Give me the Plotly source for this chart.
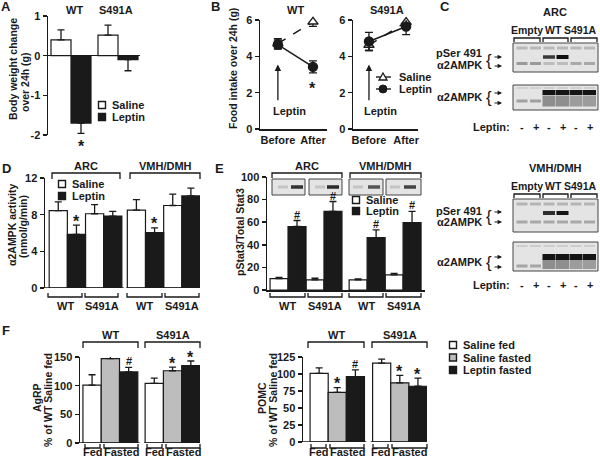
import plotly.graph_objects as go

# ---------------- data ----------------
# Panel A: body weight change over 24h (g)
a_genotypes = ["WT", "S491A"]
a_saline = [0.40, 0.52]
a_saline_err = [0.25, 0.25]
a_leptin = [-1.70, -0.10]
a_leptin_err = [0.26, 0.28]
a_leptin_marks = ["*", ""]

# Panel B: food intake over 24h (g)
b_times = ["Before", "After"]
b_wt_saline = [4.70, 5.90]
b_wt_saline_err = [0.28, 0.25]
b_wt_leptin = [4.65, 3.42]
b_wt_leptin_err = [0.25, 0.33]
b_wt_leptin_marks = ["", "*"]
b_s_saline = [4.62, 5.88]
b_s_saline_err = [0.30, 0.28]
b_s_leptin = [4.82, 5.64]
b_s_leptin_err = [0.50, 0.45]

# Panel D: a2AMPK activity (order: ARC WT, ARC S491A, VMH WT, VMH S491A)
d_regions = ["ARC", "VMH/DMH"]
d_genotypes = ["WT", "S491A"]
d_saline = [8.45, 8.10, 8.50, 9.00]
d_saline_err = [0.95, 1.00, 1.15, 1.25]
d_leptin = [5.85, 7.85, 6.05, 10.05]
d_leptin_err = [1.00, 0.50, 0.50, 0.85]
d_leptin_marks = ["*", "", "*", ""]

# Panel E: pStat3 / total Stat3
e_saline = [10.1, 8.9, 8.9, 13.3]
e_saline_err = [1.1, 1.5, 0.9, 1.5]
e_leptin = [56.2, 69.5, 46.4, 59.7]
e_leptin_err = [5.3, 8.8, 6.8, 9.8]
e_leptin_marks = ["#", "#", "#", "#"]

# Panel F (order: WT, S491A)
f_genotypes = ["WT", "S491A"]
f_conditions = ["Saline fed", "Saline fasted", "Leptin fasted"]
f_agrp_saline_fed = [101, 104]
f_agrp_saline_fed_err = [18, 9]
f_agrp_saline_fasted = [147, 126]
f_agrp_saline_fasted_err = [6, 6.5]
f_agrp_saline_fasted_marks = ["*", "*"]
f_agrp_leptin_fasted = [124, 135]
f_agrp_leptin_fasted_err = [8, 8]
f_agrp_leptin_fasted_marks = ["#", "*"]
f_pomc_saline_fed = [101, 116]
f_pomc_saline_fed_err = [8, 6]
f_pomc_saline_fasted = [73, 87]
f_pomc_saline_fasted_err = [7, 11]
f_pomc_saline_fasted_marks = ["*", "*"]
f_pomc_leptin_fasted = [96, 82]
f_pomc_leptin_fasted_err = [10, 12]
f_pomc_leptin_fasted_marks = ["#", "*"]

# ---------------- helpers ----------------
W, H = 600, 457
FONT = "Liberation Sans, Arial, sans-serif"
INK = "#1a1a1a"
GRAY = "#bdbdbd"
TICKFONT = dict(family=FONT, size=11, color=INK, weight="bold")


def X(p):
    return p / W


def Y(p):
    return 1 - p / H


fig = go.Figure()
shapes, annos = [], []


def text(x, y, s, size=11, anchor="center", angle=0, weight="bold"):
    annos.append(dict(x=X(x), y=Y(y), xref="paper", yref="paper", text=s, showarrow=False,
                      xanchor=anchor, yanchor="middle", textangle=angle,
                      font=dict(family=FONT, size=size, color=INK, weight=weight)))


def bracket(x0, x1, y, h):
    path = f"M{X(x0)},{Y(y + h)} L{X(x0)},{Y(y)} L{X(x1)},{Y(y)} L{X(x1)},{Y(y + h)}"
    shapes.append(dict(type="path", xref="paper", yref="paper", path=path,
                       line=dict(color=INK, width=1.3)))


def rect(x0, y0, x1, y1, fill, lw=0, lc=INK, op=1.0):
    shapes.append(dict(type="rect", xref="paper", yref="paper", x0=X(x0), x1=X(x1),
                       y0=Y(y1), y1=Y(y0), fillcolor=fill, opacity=op,
                       line=dict(width=lw, color=lc)))


def band(cx, cy, w, h, color, op=1.0):
    rect(cx - w / 2, cy - h / 2, cx + w / 2, cy + h / 2, color, op=op)


def small_arrow(x_tip, y, length=9):
    annos.append(dict(x=X(x_tip), y=Y(y), xref="paper", yref="paper", ax=-length, ay=0,
                      showarrow=True, arrowhead=2, arrowsize=0.8, arrowwidth=1.1,
                      arrowcolor=INK, text=""))


def legend_square(x, y, fill, label):
    rect(x - 3.5, y - 3.5, x + 3.5, y + 3.5, fill, lw=1.4)
    text(x + 8, y, label, anchor="left")


def baseline(xa, ya, segs):
    for x0, x1 in segs:
        shapes.append(dict(type="line", xref=xa, yref=ya, x0=x0, x1=x1, y0=0, y1=0,
                           line=dict(color=INK, width=1.5)))


def add_bars(xa, ya, xs, ys, errs, color, neg=False):
    n = len(ys)
    fig.add_trace(go.Bar(
        x=xs, y=ys, width=1, xaxis=xa, yaxis=ya, showlegend=False,
        marker=dict(color=color, line=dict(color=INK, width=1.2)),
        error_y=dict(type="data", symmetric=False,
                     array=[0] * n if neg else errs,
                     arrayminus=errs if neg else [0] * n,
                     color=INK, thickness=1.3, width=3.5)))


def add_marks(xa, ya, xs, ends, marks, below=False):
    for x, e, m in zip(xs, ends, marks):
        if not m:
            continue
        if m == "*":
            size, shift = 16, (-13 if below else 4)
        else:
            size, shift = 11, 6
        annos.append(dict(x=x, y=e, xref=xa, yref=ya, text=m, showarrow=False,
                          xanchor="center", yanchor="middle", yshift=shift,
                          font=dict(family=FONT, size=size, color=INK, weight="bold")))


def yaxis(top, bottom, rng, **kw):
    d = dict(domain=[Y(bottom), Y(top)], range=rng, showgrid=False, zeroline=False,
             showline=True, linecolor=INK, linewidth=1.5, ticks="outside", ticklen=4,
             tickwidth=1.5, tickcolor=INK, tickfont=TICKFONT, fixedrange=True,
             automargin=False)
    d.update(kw)
    return d


def xaxis(left, right, rng, **kw):
    d = dict(domain=[X(left), X(right)], range=rng, showgrid=False, zeroline=False,
             showline=False, ticks="", showticklabels=False, fixedrange=True,
             automargin=False)
    d.update(kw)
    return d


def group_positions(n_groups, n_per, gap):
    return [[g * (n_per + gap) + i for g in range(n_groups)] for i in range(n_per)]


# ---------------- Panel A ----------------
a_pos = group_positions(len(a_genotypes), 2, 0.35)
add_bars("x", "y", a_pos[0], a_saline, a_saline_err, "white")
add_bars("x", "y", a_pos[1], a_leptin, a_leptin_err, INK, neg=True)
add_marks("x", "y", a_pos[1], [v - e for v, e in zip(a_leptin, a_leptin_err)], a_leptin_marks, below=True)
text(6, 7, "A", size=13)
text(74, 10, a_genotypes[0])
text(116, 10, a_genotypes[1])
text(13, 69, "Body weight change", size=10.5, angle=-90)
text(25, 82, "over 24h (g)", size=10.5, angle=-90)
legend_square(102, 105, "white", "Saline")
legend_square(102, 117, INK, "Leptin")

# ---------------- Panel B ----------------
b_x = list(range(len(b_times)))


def b_series(xa, ya, vals, errs, saline):
    fig.add_trace(go.Scatter(
        x=b_x, y=vals, xaxis=xa, yaxis=ya, mode="lines+markers", showlegend=False,
        cliponaxis=False,
        line=dict(color=INK, width=1.5, dash="dash" if saline else "solid"),
        marker=dict(symbol="triangle-up" if saline else "circle", size=9,
                    color="white" if saline else INK, line=dict(color=INK, width=1.4)),
        error_y=dict(type="data", array=errs, color=INK, thickness=1.3, width=4)))


b_series("x2", "y2", b_wt_saline, b_wt_saline_err, True)
b_series("x2", "y2", b_wt_leptin, b_wt_leptin_err, False)
b_series("x3", "y3", b_s_saline, b_s_saline_err, True)
b_series("x3", "y3", b_s_leptin, b_s_leptin_err, False)
for i, m in enumerate(b_wt_leptin_marks):
    if m:
        annos.append(dict(x=b_x[i], y=b_wt_leptin[i] - b_wt_leptin_err[i], xref="x2", yref="y2",
                          text=m, showarrow=False, yanchor="middle", yshift=-16,
                          font=dict(family=FONT, size=16, color=INK, weight="bold")))
for xa, ya in (("x2", "y2"), ("x3", "y3")):
    annos.append(dict(x=b_x[0], y=3.55, ax=b_x[0], ay=1.5, xref=xa, yref=ya, axref=xa, ayref=ya,
                      showarrow=True, arrowhead=2, arrowsize=1, arrowwidth=1.3,
                      arrowcolor=INK, text=""))
    annos.append(dict(x=b_x[0] + 0.32, y=1.0, xref=xa, yref=ya, text="Leptin", showarrow=False,
                      font=dict(family=FONT, size=11, color=INK, weight="bold")))
text(215, 7, "B", size=13)
text(295, 10, "WT")
text(387, 10, "S491A")
text(233, 68, "Food intake over 24h (g)", size=10.5, angle=-90)
# legend B
shapes.append(dict(type="line", xref="paper", yref="paper", x0=X(376), x1=X(391), y0=Y(77), y1=Y(77),
                   line=dict(color=INK, width=1.4)))
shapes.append(dict(type="path", xref="paper", yref="paper",
                   path=f"M{X(379)},{Y(80)} L{X(387)},{Y(80)} L{X(383)},{Y(73)} Z",
                   fillcolor="white", line=dict(color=INK, width=1.3)))
shapes.append(dict(type="line", xref="paper", yref="paper", x0=X(376), x1=X(391), y0=Y(89), y1=Y(89),
                   line=dict(color=INK, width=1.4)))
shapes.append(dict(type="circle", xref="paper", yref="paper", x0=X(379), x1=X(387), y0=Y(93), y1=Y(85),
                   fillcolor=INK, line=dict(color=INK, width=1)))
text(397, 77, "Saline", anchor="left")
text(397, 89, "Leptin", anchor="left")

# ---------------- Panel C (blots) ----------------
lanes = [522, 535.5, 549, 562.5, 576, 589.5]
leptin_signs = ["-", "+", "-", "+", "-", "+"]
text(445, 6, "C", size=13)


def blot_block(top, title):
    o = top
    text(555, o, title)
    text(527, o + 18, "Empty", size=10.5)
    text(553, o + 18, "WT", size=10.5)
    text(580, o + 18, "S491A", size=10.5)
    for x0, x1 in ((514, 540), (543, 568), (571, 597)):
        bracket(x0, x1, o + 26, 4)


def brace(x, y, size=17):
    annos.append(dict(x=X(x), y=Y(y), xref="paper", yref="paper", text="{", showarrow=False,
                      xanchor="center", yanchor="middle",
                      font=dict(family=FONT, size=size, color=INK)))


# ARC
blot_block(12, "ARC")
rect(513, 43, 598, 72, "#e4e4e4", lw=1, lc="#444")
for i, cx in enumerate(lanes):
    band(cx, 48, 11, 3, "#b8b8b8")
    band(cx, 63.5, 11, 3, "#9a9a9a" if i < 2 else ("#bdbdbd" if i < 4 else "#a8a8a8"))
band(lanes[2], 57, 12, 3.5, "#3a3a3a")
band(lanes[3], 57, 12, 4, "#111111")
text(484, 53, "pSer 491", anchor="right")
text(484, 65, "\u03b12AMPK", anchor="right")
brace(489, 61)
small_arrow(502, 57)
small_arrow(502, 66)
rect(513, 85, 598, 110, "#e4e4e4", lw=1, lc="#444")
for i, cx in enumerate(lanes):
    band(cx, 88, 11, 2, "#d0d0d0")
    if i < 2:
        band(cx, 101, 11, 3, "#a0a0a0")
    else:
        band(cx, 101, 13, 11, "#8e8e8e" if i < 4 else "#9c9c9c")
        band(cx, 92.5, 13, 5, "#141414")
text(484, 97, "\u03b12AMPK", anchor="right")
brace(489, 98)
small_arrow(502, 93)
small_arrow(502, 103)
text(512, 127, "Leptin:", anchor="right")
for cx, s in zip(lanes, leptin_signs):
    text(cx, 127, s)

# VMH/DMH
blot_block(168, "VMH/DMH")
rect(513, 199, 598, 232, "#e4e4e4", lw=1, lc="#444")
for i, cx in enumerate(lanes):
    band(cx, 204, 11, 3, "#b4b4b4")
    band(cx, 222, 11, 3, "#a8a8a8")
band(lanes[2], 213, 12, 4, "#2e2e2e")
band(lanes[3], 213, 12, 4, "#151515")
text(484, 211, "pSer 491", anchor="right")
text(484, 222, "\u03b12AMPK", anchor="right")
brace(489, 217)
small_arrow(502, 212)
small_arrow(502, 222)
rect(513, 242, 598, 271, "#e4e4e4", lw=1, lc="#444")
for i, cx in enumerate(lanes):
    band(cx, 246, 11, 2, "#cdcdcd")
    if i < 2:
        band(cx, 266, 11, 3, "#a5a5a5")
    else:
        band(cx, 264, 13, 10, "#8e8e8e" if i < 4 else "#9c9c9c")
        band(cx, 257, 13, 6, "#151515")
text(484, 262, "\u03b12AMPK", anchor="right")
brace(489, 262)
small_arrow(502, 257)
small_arrow(502, 267)
text(512, 285, "Leptin:", anchor="right")
for cx, s in zip(lanes, leptin_signs):
    text(cx, 285, s)

# ---------------- Panel D ----------------
d_gap = 0.3
d_sal_x = [r * (4 + d_gap) + g * 2 for r in range(len(d_regions)) for g in range(len(d_genotypes))]
d_lep_x = [x + 1 for x in d_sal_x]
add_bars("x4", "y4", d_sal_x, d_saline, d_saline_err, "white")
add_bars("x4", "y4", d_lep_x, d_leptin, d_leptin_err, INK)
add_marks("x4", "y4", d_lep_x, [v + e for v, e in zip(d_leptin, d_leptin_err)], d_leptin_marks)
baseline("x4", "y4", [(-0.73, 3.6), (3.75, 7.8)])
text(6, 168, "D", size=13)
text(86, 166, d_regions[0])
text(165, 166, d_regions[1])
bracket(52, 120, 173, 6)
bracket(130, 200, 173, 6)
for x0, x1, lab in ((48, 82, "WT"), (85, 118, "S491A"), (127, 162, "WT"), (165, 199, "S491A")):
    bracket(x0, x1, 297, -4)
    text((x0 + x1) / 2, 306, lab)
text(12, 225, "\u03b12AMPK activity", size=10.5, angle=-90)
text(23, 227, "(nmol/g/min)", size=10.5, angle=-90)
legend_square(62, 184, "white", "Saline")
legend_square(62, 196, INK, "Leptin")

# ---------------- Panel E ----------------
e_gap = 0.4
e_sal_x = [r * (4 + e_gap) + g * 2 for r in range(2) for g in range(2)]
e_lep_x = [x + 1 for x in e_sal_x]
add_bars("x5", "y5", e_sal_x, e_saline, e_saline_err, "white")
add_bars("x5", "y5", e_lep_x, e_leptin, e_leptin_err, INK)
add_marks("x5", "y5", e_lep_x, [v + e for v, e in zip(e_leptin, e_leptin_err)], e_leptin_marks)
text(220, 168, "E", size=13)
text(307, 166, "ARC")
text(385, 166, "VMH/DMH")
bracket(272, 342, 173, 5)
bracket(350, 421, 173, 5)
for (x0, x1), (faint, dark, dcol) in zip(((272, 305), (309, 342), (349, 383), (386, 421)),
                                         ((283, 297, "#333"), (320, 333, "#2a2a2a"),
                                          (358, 374, "#555"), (395, 410, "#444"))):
    rect(x0, 179, x1, 195, "#e4e4e4", lw=1, lc="#444")
    band(faint, 187, 10, 3, "#c4c4c4")
    band(dark, 187, 12, 3.5, dcol)
for x0, x1, lab in ((270, 305, "WT"), (308, 342, "S491A"), (349, 383, "WT"), (386, 421, "S491A")):
    bracket(x0, x1, 297, -4)
    text((x0 + x1) / 2, 306, lab)
text(240, 232, "pStat3/Total Stat3", size=10.5, angle=-90)
legend_square(356, 200, "white", "Saline")
legend_square(356, 211, INK, "Leptin")

# ---------------- Panel F ----------------
fl_pos = group_positions(len(f_genotypes), 3, 0.4)
fr_pos = group_positions(len(f_genotypes), 3, 0.45)
f_colors = ["white", GRAY, INK]

add_bars("x6", "y6", fl_pos[0], f_agrp_saline_fed, f_agrp_saline_fed_err, f_colors[0])
add_bars("x6", "y6", fl_pos[1], f_agrp_saline_fasted, f_agrp_saline_fasted_err, f_colors[1])
add_bars("x6", "y6", fl_pos[2], f_agrp_leptin_fasted, f_agrp_leptin_fasted_err, f_colors[2])
add_marks("x6", "y6", fl_pos[1], [v + e for v, e in zip(f_agrp_saline_fasted, f_agrp_saline_fasted_err)], f_agrp_saline_fasted_marks)
add_marks("x6", "y6", fl_pos[2], [v + e for v, e in zip(f_agrp_leptin_fasted, f_agrp_leptin_fasted_err)], f_agrp_leptin_fasted_marks)
baseline("x6", "y6", [(-0.66, 2.6), (2.85, 5.9)])

add_bars("x7", "y7", fr_pos[0], f_pomc_saline_fed, f_pomc_saline_fed_err, f_colors[0])
add_bars("x7", "y7", fr_pos[1], f_pomc_saline_fasted, f_pomc_saline_fasted_err, f_colors[1])
add_bars("x7", "y7", fr_pos[2], f_pomc_leptin_fasted, f_pomc_leptin_fasted_err, f_colors[2])
add_marks("x7", "y7", fr_pos[1], [v + e for v, e in zip(f_pomc_saline_fasted, f_pomc_saline_fasted_err)], f_pomc_saline_fasted_marks)
add_marks("x7", "y7", fr_pos[2], [v + e for v, e in zip(f_pomc_leptin_fasted, f_pomc_leptin_fasted_err)], f_pomc_leptin_fasted_marks)
baseline("x7", "y7", [(-0.89, 2.6), (2.85, 5.95)])

text(6, 330, "F", size=13)
for (g0, g1), (fed, fas), lab in (((83, 138), ((85, 100), (104, 138)), "WT"),
                                   ((145, 200), ((147, 162), (166, 200)), "S491A"),
                                   ((308, 364), ((311, 326), (330, 364)), "WT"),
                                   ((372, 427), ((373, 388), (392, 427)), "S491A")):
    text((g0 + g1) / 2, 335, lab)
    bracket(g0, g1, 342, 6)
    bracket(fed[0], fed[1], 448, -4)
    bracket(fas[0], fas[1], 448, -4)
    text((fed[0] + fed[1]) / 2, 452, "Fed")
    text((fas[0] + fas[1]) / 2, 452, "Fasted")
text(37, 398, "AgRP", size=10.5, angle=-90)
text(48, 400, "% of WT Saline fed", size=10.5, angle=-90)
text(262, 398, "POMC", size=10.5, angle=-90)
text(273, 400, "% of WT Saline fed", size=10.5, angle=-90)
for i, (c, lab) in enumerate(zip(f_colors, f_conditions)):
    legend_square(453, 345 + 12.5 * i, c, lab)

# ---------------- layout ----------------
fig.update_layout(
    width=W, height=H, margin=dict(l=0, r=0, t=0, b=0, pad=0, autoexpand=False),
    paper_bgcolor="white", plot_bgcolor="rgba(0,0,0,0)",
    barmode="overlay", showlegend=False,
    font=dict(family=FONT, color=INK),
    xaxis=xaxis(48, 140, [-0.65, 3.95]),
    yaxis=yaxis(16, 135, [-2, 1], tickvals=[-2, -1, 0, 1], ticktext=["-2", "-1", "0", "1"],
                zeroline=True, zerolinecolor=INK, zerolinewidth=1.5, anchor="x"),
    xaxis2=xaxis(260, 327, [-0.51, 1.4], showline=True, linecolor=INK, linewidth=1.5,
                 showticklabels=True, tickvals=b_x, ticktext=b_times, tickfont=TICKFONT, anchor="y2"),
    yaxis2=yaxis(20, 129, [0, 6], dtick=2, anchor="x2"),
    xaxis3=xaxis(353, 418, [-0.43, 1.32], showline=True, linecolor=INK, linewidth=1.5,
                 showticklabels=True, tickvals=b_x, ticktext=b_times, tickfont=TICKFONT, anchor="y3"),
    yaxis3=yaxis(20, 129, [0, 6], dtick=2, anchor="x3"),
    xaxis4=xaxis(45, 200, [-0.73, 7.8], anchor="y4"),
    yaxis4=yaxis(178, 288, [0, 12], dtick=4, anchor="x4"),
    xaxis5=xaxis(267, 425, [-0.67, 8.12], showline=True, linecolor=INK, linewidth=1.5, anchor="y5"),
    yaxis5=yaxis(177, 290, [0, 100], dtick=20, anchor="x5"),
    xaxis6=xaxis(80, 200, [-0.66, 5.9], anchor="y6"),
    yaxis6=yaxis(357, 443, [0, 150], dtick=50, anchor="x6"),
    xaxis7=xaxis(303, 427, [-0.89, 5.95], anchor="y7"),
    yaxis7=yaxis(357, 442, [0, 125], dtick=25, anchor="x7"),
    shapes=shapes,
    annotations=annos,
)

fig.write_html("out.html", config={"displayModeBar": False, "staticPlot": True},
               post_script="document.body.style.margin='0';document.body.style.overflow='hidden';")
